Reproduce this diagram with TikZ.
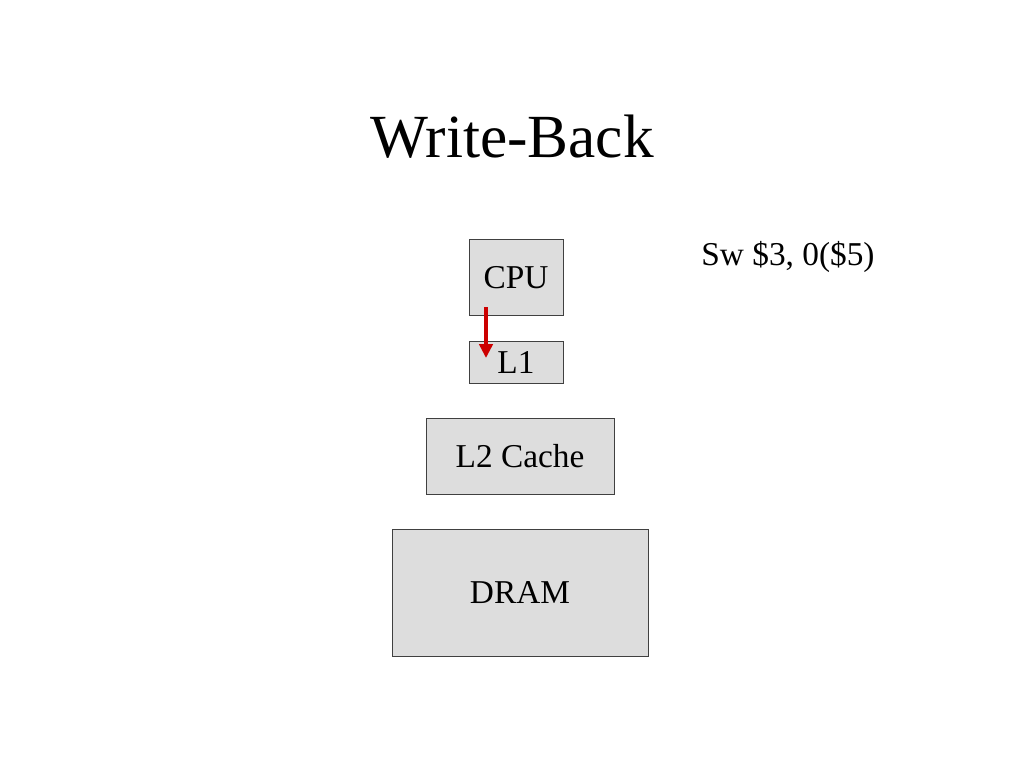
\documentclass[tikz,border=0pt]{standalone}
\usepackage{fontspec}
\setmainfont{Liberation Serif}
\usetikzlibrary{arrows.meta,positioning}
\definecolor{boxgray}{HTML}{DDDDDD}
\definecolor{wbred}{HTML}{CC0000}
\begin{document}
\begin{tikzpicture}[x=0.75pt,y=-0.75pt]
\tikzstyle{level}=[draw=black!75,fill=boxgray,line width=0.6pt,inner sep=0pt,text depth=0pt,font=\fontsize{25}{30}\selectfont]
\tikzstyle{wbarrow}=[draw=wbred,line width=3pt,-{Triangle[length=10.5pt,width=10pt]}]
\useasboundingbox (0,0) rectangle (1024,768);
\node (title) at (512,137) {\fontsize{46}{55}\selectfont Write-Back};
\node (instr) at (788,257) {\fontsize{25}{30}\selectfont Sw \$3, 0(\$5)};
\node [level,minimum width=70.5pt,minimum height=57pt] (cpu) at (516,277) {CPU};
\node [level,minimum width=70.5pt,minimum height=31.5pt] (l1) at (516,362) {L1};
\node [level,minimum width=141pt,minimum height=57pt] (l2) at (520,456) {L2 Cache};
\node [level,minimum width=192pt,minimum height=95.25pt] (dram) at (520,592.5) {DRAM};
\coordinate (wfrom) at (486,307);
\coordinate (wto) at (486,358);
\draw [wbarrow] (wfrom) -- (wto);
\end{tikzpicture}
\end{document}
